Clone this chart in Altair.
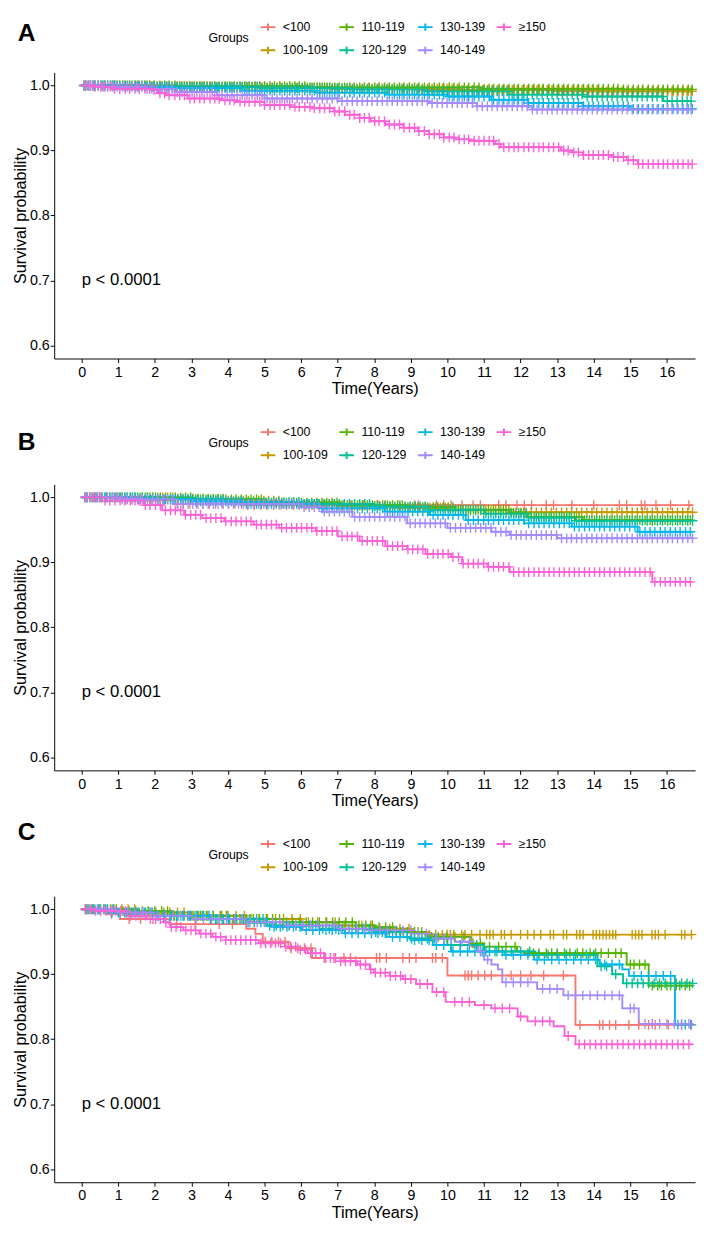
import bisect
import altair as alt
import pandas as pd

FONT = "Liberation Sans"

groups = ["<100", "100-109", "110-119", "120-129", "130-139", "140-149", "≥150"]
group_colors = ["#F8766D", "#C49A00", "#53B400", "#00C094", "#00B6EB", "#A58AFF", "#FB61D7"]
legend_order = ["<100", "110-119", "130-139", "≥150", "100-109", "120-129", "140-149"]
panel_labels = ["A", "B", "C"]
p_value_text = "p < 0.0001"
last_followup = 16.7
x_ticks = list(range(0, 17))
y_ticks = [0.6, 0.7, 0.8, 0.9, 1.0]

# ---------------- Panel A : step curves (time, survival) ----------------
a1_t = [0, 2.0, 5.1, 9.3, 13.0]
a1_s = [1.0, 0.998, 0.996, 0.993, 0.991]
a2_t = [0, 1.2, 3.5, 6.8, 10.4, 14.1]
a2_s = [1.0, 0.999, 0.997, 0.995, 0.993, 0.991]
a3_t = [0, 2.6, 6.2, 10.9, 14.8]
a3_s = [1.0, 0.999, 0.997, 0.995, 0.994]
a4_t = [0, 1.8, 4.9, 7.4, 9.4, 11.7, 13.7, 15.9]
a4_s = [1.0, 0.998, 0.996, 0.994, 0.991, 0.986, 0.983, 0.976]
a5_t = [0, 1.0, 2.5, 4.4, 6.4, 8.3, 10.0, 11.2, 12.2, 13.7, 15.0]
a5_s = [1.0, 0.998, 0.996, 0.992, 0.989, 0.986, 0.983, 0.978, 0.973, 0.968, 0.964]
a6_t = [0, 0.5, 1.7, 2.6, 3.7, 5.0, 7.0, 9.5, 10.8, 12.3]
a6_s = [1.0, 0.998, 0.995, 0.99, 0.985, 0.98, 0.976, 0.973, 0.968, 0.963]
a7_t = [0, 0.3, 0.8, 1.9, 2.1, 2.3, 2.9, 3.8, 4.2, 5.0, 5.7, 6.3, 6.9, 7.2, 7.6, 7.9,
        8.3, 8.8, 9.2, 9.5, 9.9, 10.2, 10.6, 11.3, 11.45, 13.1, 13.4, 13.7, 14.5, 14.9, 15.2]
a7_s = [1.0, 0.998, 0.995, 0.993, 0.988, 0.985, 0.98, 0.977, 0.975, 0.97, 0.967, 0.965, 0.96, 0.955, 0.95, 0.945,
        0.94, 0.935, 0.93, 0.925, 0.92, 0.917, 0.915, 0.91, 0.905, 0.9, 0.897, 0.893, 0.89, 0.885, 0.879]

# Panel A censoring times
a_cens_1 = [0.11, 0.24, 0.36, 0.52, 0.63, 0.79, 0.9, 1.04, 1.19, 1.31, 1.46, 1.57, 1.73, 1.86, 1.98, 2.14,
            2.27, 2.39, 2.55, 2.68, 2.81, 2.96, 3.08, 3.23, 3.35, 3.51, 3.64, 3.76, 3.92, 4.05, 4.17, 4.33,
            4.46, 4.58, 4.74, 4.87, 5.0, 5.15, 5.27, 5.42, 5.55, 5.69, 5.83, 5.95, 6.1, 6.24, 6.36, 6.51,
            6.64, 6.78, 6.92, 7.04, 7.19, 7.33, 7.45, 7.6, 7.73, 7.86, 8.01, 8.13, 8.28, 8.41, 8.55, 8.69,
            8.81, 8.96, 9.1, 9.22, 9.37, 9.5, 9.64, 9.78, 9.9, 10.05, 10.18, 10.32, 10.46, 10.58, 10.73,
            10.86, 11.0, 11.14, 11.26, 11.41, 11.54, 11.68, 11.82, 11.94, 12.09, 12.22, 12.36, 12.5, 12.62,
            12.77, 12.9, 13.04, 13.18, 13.3, 13.45, 13.58, 13.72, 13.86, 13.98, 14.13, 14.26, 14.4, 14.54,
            14.66, 14.81, 14.94, 15.08, 15.22, 15.34, 15.49, 15.62, 15.76, 15.9, 16.02, 16.17, 16.3, 16.44,
            16.58, 16.69]
a_cens_2 = [0.06, 0.18, 0.31, 0.45, 0.58, 0.71, 0.85, 0.97, 1.12, 1.25, 1.38, 1.52, 1.65, 1.79, 1.92, 2.06,
            2.2, 2.33, 2.47, 2.61, 2.74, 2.88, 3.02, 3.15, 3.29, 3.43, 3.57, 3.7, 3.84, 3.98, 4.11, 4.25,
            4.39, 4.52, 4.66, 4.8, 4.93, 5.07, 5.21, 5.34, 5.48, 5.62, 5.76, 5.89, 6.03, 6.17, 6.3, 6.44,
            6.58, 6.71, 6.85, 6.99, 7.12, 7.26, 7.4, 7.53, 7.67, 7.81, 7.94, 8.08, 8.22, 8.35, 8.49, 8.63,
            8.76, 8.9, 9.04, 9.17, 9.31, 9.45, 9.58, 9.72, 9.86, 9.99, 10.13, 10.27, 10.4, 10.54, 10.68,
            10.81, 10.95, 11.09, 11.22, 11.36, 11.5, 11.63, 11.77, 11.91, 12.04, 12.18, 12.32, 12.45, 12.59,
            12.73, 12.86, 13.0, 13.14, 13.27, 13.41, 13.55, 13.68, 13.82, 13.96, 14.09, 14.23, 14.37, 14.5,
            14.64, 14.78, 14.91, 15.05, 15.19, 15.32, 15.46, 15.6, 15.73, 15.87, 16.01, 16.14, 16.28, 16.42,
            16.55, 16.66]

# ---------------- Panel B ----------------
b1_t = [0, 1.2, 2.5, 4.5]
b1_s = [1.0, 0.996, 0.99, 0.988]
b2_t = [0, 2.5, 4.0, 5.5, 7.0, 8.5, 10.0, 11.7]
b2_s = [1.0, 0.998, 0.995, 0.99, 0.987, 0.984, 0.98, 0.977]
b3_t = [0, 3.0, 5.0, 7.0, 8.9, 10.2, 11.7, 12.2, 13.7]
b3_s = [1.0, 0.997, 0.992, 0.988, 0.985, 0.981, 0.976, 0.97, 0.965]
b4_t = [0, 2.0, 4.0, 6.0, 8.0, 9.5, 11.0, 12.2, 13.5]
b4_s = [1.0, 0.997, 0.993, 0.99, 0.986, 0.981, 0.975, 0.969, 0.964]
b5_t = [0, 1.5, 3.0, 4.5, 6.5, 8.3, 9.5, 10.5, 12.1, 13.4, 15.2]
b5_s = [1.0, 0.997, 0.994, 0.99, 0.983, 0.978, 0.973, 0.965, 0.96, 0.955, 0.947]
b6_t = [0, 1.0, 2.5, 6.0, 6.6, 7.4, 8.9, 10.0, 11.2, 11.7, 13.0]
b6_s = [1.0, 0.997, 0.99, 0.985, 0.978, 0.97, 0.96, 0.953, 0.947, 0.942, 0.937]
b7_t = [0, 0.5, 1.7, 2.2, 2.8, 3.3, 3.9, 4.7, 5.4, 6.4, 7.0, 7.6, 8.3, 8.9, 9.4, 10.1, 10.4, 11.1, 11.7, 15.6]
b7_s = [1.0, 0.995, 0.988, 0.98, 0.973, 0.968, 0.963, 0.958, 0.953, 0.948, 0.94, 0.933, 0.925, 0.92, 0.913,
        0.908, 0.898, 0.893, 0.885, 0.87]

b_red_cens = [0.15, 0.33, 0.5, 0.68, 0.85, 1.02, 1.2, 1.38, 1.55, 1.73, 1.9, 2.08, 2.26, 2.43, 2.61, 2.78,
              2.96, 3.14, 3.31, 3.49, 3.66, 3.84, 4.02, 4.19, 4.37, 4.54, 4.72, 4.9, 5.07, 5.25, 5.42, 5.6,
              5.78, 5.95, 6.13, 6.3, 6.48, 6.66, 6.83, 7.01, 7.18, 7.36, 7.7, 8.1, 8.3, 8.7, 9.1, 9.2, 9.7,
              9.9, 10.1, 10.4, 10.7, 10.9, 11.4, 11.6, 11.9, 12.1, 12.3, 12.7, 12.9, 13.4, 14.0, 14.7, 14.9,
              15.3, 15.4, 15.7, 16.1, 16.6]
b_cens_1 = [0.09, 0.22, 0.37, 0.49, 0.64, 0.77, 0.91, 1.05, 1.18, 1.33, 1.46, 1.6, 1.74, 1.87, 2.02, 2.15,
            2.29, 2.43, 2.56, 2.71, 2.84, 2.98, 3.12, 3.25, 3.4, 3.53, 3.67, 3.81, 3.94, 4.09, 4.22, 4.36,
            4.5, 4.63, 4.78, 4.91, 5.05, 5.19, 5.32, 5.47, 5.6, 5.74, 5.88, 6.01, 6.16, 6.29, 6.43, 6.57,
            6.7, 6.85, 6.98, 7.12, 7.26, 7.39, 7.54, 7.67, 7.81, 7.95, 8.08, 8.23, 8.36, 8.5, 8.64, 8.77,
            8.92, 9.05, 9.19, 9.33, 9.46, 9.61, 9.74, 9.88, 10.02, 10.15, 10.3, 10.43, 10.57, 10.71, 10.84,
            10.99, 11.12, 11.26, 11.4, 11.53, 11.68, 11.81, 11.95, 12.09, 12.22, 12.37, 12.5, 12.64, 12.78,
            12.91, 13.06, 13.19, 13.33, 13.47, 13.6, 13.75, 13.88, 14.02, 14.16, 14.29, 14.44, 14.57, 14.71,
            14.85, 14.98, 15.13, 15.26, 15.4, 15.54, 15.67, 15.82, 15.95, 16.09, 16.23, 16.36, 16.51, 16.64]
b_cens_2 = [0.15, 0.29, 0.42, 0.56, 0.7, 0.84, 0.97, 1.11, 1.25, 1.39, 1.53, 1.66, 1.8, 1.94, 2.08, 2.22,
            2.35, 2.49, 2.63, 2.77, 2.91, 3.04, 3.18, 3.32, 3.46, 3.6, 3.73, 3.87, 4.01, 4.15, 4.29, 4.42,
            4.56, 4.7, 4.84, 4.98, 5.11, 5.25, 5.39, 5.53, 5.67, 5.8, 5.94, 6.08, 6.22, 6.36, 6.49, 6.63,
            6.77, 6.91, 7.05, 7.18, 7.32, 7.46, 7.6, 7.74, 7.87, 8.01, 8.15, 8.29, 8.43, 8.56, 8.7, 8.84,
            8.98, 9.12, 9.25, 9.39, 9.53, 9.67, 9.81, 9.94, 10.08, 10.22, 10.36, 10.5, 10.63, 10.77, 10.91,
            11.05, 11.19, 11.32, 11.46, 11.6, 11.74, 11.88, 12.01, 12.15, 12.29, 12.43, 12.57, 12.7, 12.84,
            12.98, 13.12, 13.26, 13.39, 13.53, 13.67, 13.81, 13.95, 14.08, 14.22, 14.36, 14.5, 14.64, 14.77,
            14.91, 15.05, 15.19, 15.33, 15.46, 15.6, 15.74, 15.88, 16.02, 16.15, 16.29, 16.43, 16.57, 16.7]

# ---------------- Panel C ----------------
c1_t = [0, 0.7, 1.05, 2.4, 4.5, 4.75, 4.95, 5.65, 6.3, 10.0, 13.5]
c1_s = [1.0, 0.993, 0.985, 0.977, 0.97, 0.962, 0.95, 0.94, 0.925, 0.898, 0.822]
c2_t = [0, 1.5, 3.0, 4.5, 6.0, 7.0, 8.0, 9.0, 9.5]
c2_s = [1.0, 0.995, 0.99, 0.985, 0.98, 0.975, 0.97, 0.965, 0.961]
c3_t = [0, 1.0, 2.5, 4.0, 5.5, 7.5, 8.0, 8.6, 9.4, 10.65, 11.0, 11.9, 12.1, 14.9, 15.5]
c3_s = [1.0, 0.997, 0.99, 0.985, 0.98, 0.975, 0.9725, 0.965, 0.9575, 0.9475, 0.9425, 0.935, 0.9325, 0.915, 0.8825]
c4_t = [0, 1.0, 2.0, 3.5, 5.0, 6.5, 8.0, 9.0, 10.0, 11.0, 12.4, 14.1, 14.5, 14.8]
c4_s = [1.0, 0.995, 0.99, 0.985, 0.975, 0.97, 0.965, 0.955, 0.945, 0.935, 0.93, 0.912, 0.9, 0.886]
c5_t = [0, 0.8, 2.0, 3.5, 4.5, 5.2, 6.0, 7.2, 8.33, 9.0, 9.6, 10.1, 11.56, 12.37, 14.16, 14.78, 14.96, 16.22]
c5_s = [1.0, 0.995, 0.99, 0.985, 0.98, 0.973, 0.968, 0.963, 0.9575, 0.9525, 0.945, 0.935, 0.93, 0.9225,
        0.915, 0.9075, 0.8975, 0.8225]
c6_t = [0, 1.0, 2.0, 3.0, 4.5, 5.5, 7.0, 7.8, 9.05, 9.6, 10.2, 10.66, 10.84, 11.0, 11.2, 11.38, 11.5,
        12.45, 13.17, 14.78, 15.23]
c6_s = [1.0, 0.995, 0.99, 0.985, 0.98, 0.975, 0.97, 0.9675, 0.9625, 0.955, 0.95, 0.9425, 0.935, 0.9225,
        0.915, 0.9075, 0.8875, 0.8775, 0.8675, 0.8475, 0.8235]
c7_t = [0, 0.36, 1.25, 1.79, 2.24, 2.42, 2.78, 3.22, 3.58, 3.94, 4.84, 5.56, 5.91, 6.18, 6.63, 7.08, 7.53,
        7.88, 7.98, 8.42, 8.78, 9.14, 9.59, 9.95, 10.75, 11.2, 11.92, 12.19, 12.9, 13.2, 13.5]
c7_s = [1.0, 0.9975, 0.99, 0.985, 0.98, 0.9725, 0.9675, 0.9625, 0.9575, 0.9525, 0.9475, 0.9425, 0.9375,
        0.9325, 0.925, 0.92, 0.915, 0.9075, 0.9025, 0.8975, 0.8925, 0.885, 0.8725, 0.8575, 0.8525, 0.8475,
        0.835, 0.8275, 0.82, 0.805, 0.792]

c1_cens = [0.81, 1.3, 1.61, 1.95, 2.6, 3.1, 3.76, 4.12, 5.02, 5.2, 5.38, 5.56, 5.73, 5.91, 6.09, 6.27, 6.63,
           6.9, 7.17, 7.35, 8.06, 8.15, 8.33, 8.78, 8.96, 9.14, 9.59, 9.68, 9.86, 10.48, 10.57, 10.66, 10.84,
           11.02, 11.2, 11.74, 12.0, 12.28, 12.63, 13.17, 13.62, 14.16, 14.25, 14.43, 14.6, 14.96, 15.23,
           15.5, 15.68, 16.04, 16.4, 16.67]
c2_cens = [0.15, 0.32, 0.5, 0.71, 0.88, 1.1, 1.27, 1.45, 1.66, 1.84, 2.03, 2.25, 2.41, 2.62, 2.8, 3.02, 3.2,
           3.41, 3.6, 3.83, 4.0, 4.22, 4.45, 4.63, 4.85, 5.08, 5.3, 5.52, 5.75, 5.98, 6.2, 6.45, 6.7, 6.93,
           7.18, 7.4, 7.66, 7.9, 8.15, 8.42, 8.7, 8.95, 9.2, 9.5, 9.68, 9.86, 9.99, 10.08, 10.17, 10.39,
           10.48, 10.66, 10.89, 11.07, 11.16, 11.25, 11.47, 11.56, 11.74, 12.0, 12.19, 12.37, 12.55, 12.81,
           12.9, 13.17, 13.26, 13.53, 13.62, 13.71, 13.98, 14.07, 14.16, 14.25, 14.34, 14.43, 14.52, 14.6,
           15.05, 15.14, 15.23, 15.32, 15.59, 15.68, 15.77, 15.95, 16.4, 16.49, 16.67]
c3_cens = [0.1, 0.28, 0.45, 0.6, 0.79, 0.95, 1.13, 1.3, 1.48, 1.66, 1.82, 2.0, 2.19, 2.35, 2.54, 2.71, 2.9,
           3.07, 3.25, 3.43, 3.6, 3.79, 3.96, 4.15, 4.33, 4.5, 4.69, 4.86, 5.05, 5.22, 5.41, 5.6, 5.77, 5.95,
           6.14, 6.31, 6.5, 6.68, 6.86, 7.04, 7.22, 7.4, 7.58, 7.77, 7.95, 8.13, 8.31, 8.5, 8.72, 8.9, 9.1,
           9.3, 9.55, 9.75, 9.98, 10.2, 10.45, 10.7, 10.9, 11.15, 11.4, 11.6, 11.85, 12.2, 12.35, 12.5,
           12.7, 12.85, 13.0, 13.2, 13.35, 13.55, 13.7, 13.9, 14.05, 14.2, 14.4, 14.6, 14.75, 15.0, 15.1,
           15.25, 15.4, 15.6, 15.75, 15.85, 16.0, 16.1, 16.25, 16.35, 16.5, 16.62]
c4_cens = [0.18, 0.36, 0.52, 0.7, 0.87, 1.05, 1.22, 1.4, 1.57, 1.75, 1.93, 2.1, 2.28, 2.45, 2.63, 2.8, 2.98,
           3.16, 3.34, 3.52, 3.7, 3.88, 4.05, 4.24, 4.42, 4.6, 4.78, 4.96, 5.14, 5.32, 5.5, 5.68, 5.86, 6.04,
           6.22, 6.4, 6.59, 6.77, 6.95, 7.13, 7.31, 7.49, 7.68, 7.86, 8.04, 8.22, 8.41, 8.6, 8.8, 9.02, 9.22,
           9.45, 9.65, 9.9, 10.1, 10.35, 10.6, 10.8, 11.05, 11.3, 11.5, 11.75, 12.0, 12.25, 12.5, 12.75,
           13.0, 13.25, 13.5, 13.8, 14.0, 14.2, 14.35, 14.6, 14.9, 15.05, 15.2, 15.35, 15.5, 15.65, 15.8,
           15.95, 16.1, 16.25, 16.4, 16.55, 16.7]
c5_cens = [0.12, 0.3, 0.47, 0.65, 0.83, 1.0, 1.18, 1.36, 1.53, 1.71, 1.89, 2.06, 2.24, 2.42, 2.6, 2.77, 2.95,
           3.13, 3.3, 3.48, 3.66, 3.84, 4.01, 4.19, 4.37, 4.55, 4.72, 4.9, 5.08, 5.26, 5.43, 5.61, 5.79, 5.97,
           6.14, 6.32, 6.5, 6.68, 6.85, 7.03, 7.21, 7.39, 7.56, 7.74, 7.92, 8.1, 8.3, 8.5, 8.7, 8.9, 9.1,
           9.3, 9.5, 9.7, 9.9, 10.15, 10.35, 10.55, 10.75, 10.95, 11.15, 11.35, 11.6, 11.8, 12.0, 12.2,
           12.45, 12.65, 12.85, 13.05, 13.25, 13.45, 13.65, 13.85, 14.05, 14.3, 14.5, 14.7, 15.1, 15.3,
           15.5, 15.7, 15.9, 16.1, 16.3, 16.5, 16.65]
c6_cens = [0.21, 0.43, 0.62, 0.84, 1.05, 1.26, 1.45, 1.67, 1.88, 2.08, 2.3, 2.51, 2.7, 2.92, 3.13, 3.33,
           3.55, 3.76, 3.96, 4.18, 4.38, 4.6, 4.8, 5.01, 5.22, 5.42, 5.64, 5.85, 6.05, 6.27, 6.47, 6.68, 6.9,
           7.1, 7.31, 7.52, 7.73, 7.94, 8.15, 8.36, 8.57, 8.78, 9.0, 9.2, 9.42, 9.7, 9.9, 10.1, 10.4, 10.6,
           10.9, 11.1, 11.6, 11.8, 12.0, 12.2, 12.6, 12.8, 13.0, 13.3, 13.5, 13.7, 13.9, 14.1, 14.3, 14.5,
           14.7, 15.0, 15.1, 15.4, 15.6, 15.8, 16.0, 16.2, 16.4, 16.6]
c7_cens = [0.1, 0.25, 0.38, 0.52, 0.66, 0.8, 0.93, 1.07, 1.2, 1.34, 1.48, 1.61, 1.75, 1.88, 2.02, 2.15, 2.3,
           2.45, 2.58, 2.71, 2.85, 2.99, 3.12, 3.26, 3.4, 3.53, 3.67, 3.8, 3.94, 4.08, 4.21, 4.35, 4.49,
           4.62, 4.76, 4.9, 5.03, 5.17, 5.3, 5.44, 5.58, 5.71, 5.85, 5.98, 6.12, 6.26, 6.4, 6.53, 6.67, 6.8,
           6.94, 7.08, 7.21, 7.35, 7.49, 7.62, 7.76, 7.9, 8.03, 8.17, 8.3, 8.44, 8.58, 8.72, 8.85, 9.0,
           9.25, 9.45, 9.7, 9.9, 10.2, 10.4, 10.6, 11.0, 11.3, 11.5, 11.7, 12.0, 12.4, 12.6, 12.8, 13.3,
           13.6, 13.75, 13.9, 14.05, 14.2, 14.35, 14.5, 14.65, 14.8, 14.95, 15.1, 15.25, 15.4, 15.55, 15.7,
           15.85, 16.0, 16.15, 16.3, 16.45, 16.6]

panel_steps = {
    "A": ([a1_t, a2_t, a3_t, a4_t, a5_t, a6_t, a7_t], [a1_s, a2_s, a3_s, a4_s, a5_s, a6_s, a7_s],
          [a_cens_1, a_cens_2, a_cens_1, a_cens_2, a_cens_1, a_cens_2, a_cens_1]),
    "B": ([b1_t, b2_t, b3_t, b4_t, b5_t, b6_t, b7_t], [b1_s, b2_s, b3_s, b4_s, b5_s, b6_s, b7_s],
          [b_red_cens, b_cens_2, b_cens_1, b_cens_2, b_cens_1, b_cens_2, b_cens_1]),
    "C": ([c1_t, c2_t, c3_t, c4_t, c5_t, c6_t, c7_t], [c1_s, c2_s, c3_s, c4_s, c5_s, c6_s, c7_s],
          [c1_cens, c2_cens, c3_cens, c4_cens, c5_cens, c6_cens, c7_cens]),
}

# layout offsets (px, relative to each plot's top edge)
letter_dy = {"A": -40, "B": -43, "C": -65}
legend_dy = {"A": -55, "B": -62, "C": -62}


def build_frames(t_lists, s_lists, cens_lists):
    line_rows, cens_rows = [], []
    for g, ts, ss, cs in zip(groups, t_lists, s_lists, cens_lists):
        for t, s in zip(ts, ss):
            line_rows.append({"group": g, "t": t, "s": s})
        line_rows.append({"group": g, "t": last_followup, "s": ss[-1]})
        for c in cs:
            i = bisect.bisect_right(ts, c) - 1
            cens_rows.append({"group": g, "t": c, "s": ss[i]})
    return pd.DataFrame(line_rows), pd.DataFrame(cens_rows)


x_scale = alt.Scale(domain=[-0.75, 16.77], nice=False, zero=False)
y_scale = alt.Scale(domain=[0.58, 1.02], nice=False, zero=False)
legend_colors = [group_colors[groups.index(g)] for g in legend_order]


def make_panel(label):
    line_df, cens_df = build_frames(*panel_steps[label])
    legend = alt.Legend(
        title="Groups", orient="none", legendX=157, legendY=legend_dy[label], direction="horizontal",
        columns=4, symbolType="M-1,0H1M0,-0.5V0.5", symbolSize=225, symbolStrokeWidth=2, symbolOpacity=1,
        labelFontSize=12.5, labelFont=FONT, labelColor="black", labelOffset=6.5,
        titleFontSize=12.5, titleFont=FONT, titleColor="black", titleFontWeight="normal",
        titleOrient="left", titleAnchor="middle", titleBaseline="middle", titlePadding=11,
        columnPadding=7, rowPadding=7,
    )
    color = alt.Color("group:N", scale=alt.Scale(domain=legend_order, range=legend_colors), legend=legend)
    x = alt.X("t:Q", scale=x_scale,
              axis=alt.Axis(values=x_ticks, title="Time(Years)", labelPadding=3, titlePadding=2))
    y = alt.Y("s:Q", scale=y_scale,
              axis=alt.Axis(values=y_ticks, format=".1f", title="Survival probability",
                            labelPadding=1, titlePadding=1))
    lines = alt.Chart(line_df).mark_line(interpolate="step-after", strokeWidth=1.9).encode(
        x=x, y=y, color=color)
    cens = alt.Chart(cens_df).mark_point(
        shape="M-1,0H1M0,-1V1", size=100, filled=False, strokeWidth=1.4, opacity=1
    ).encode(x=x, y=y, color=color)
    ptxt = alt.Chart(pd.DataFrame({"t": [0.0], "s": [0.7], "label": [p_value_text]})).mark_text(
        align="left", baseline="middle", fontSize=17, font=FONT, color="black"
    ).encode(x=x, y=y, text="label:N")
    letter = alt.Chart(pd.DataFrame({"label": [label]})).mark_text(
        align="left", baseline="middle", fontSize=25, fontWeight="bold", font=FONT, color="black"
    ).encode(x=alt.value(-37), y=alt.value(letter_dy[label]), text="label:N")
    return alt.layer(lines, cens, ptxt, letter).properties(width=652, height=291)


chart = (
    alt.vconcat(*[make_panel(p) for p in panel_labels], spacing=128, bounds="flush")
    .resolve_scale(color="independent")
    .resolve_legend(color="independent")
    .properties(padding={"left": 4, "top": 0, "right": 0, "bottom": 0})
    .configure(font=FONT)
    .configure_view(stroke=None)
    .configure_axis(
        grid=False, domainColor="black", tickColor="black", labelColor="black", titleColor="black",
        labelFontSize=14.5, titleFontSize=16.5, titleFontWeight="normal", tickSize=4, domainWidth=1,
        tickWidth=1, labelFont=FONT, titleFont=FONT,
    )
)

chart.save("out.html", embed_options={"renderer": "svg", "actions": False})
